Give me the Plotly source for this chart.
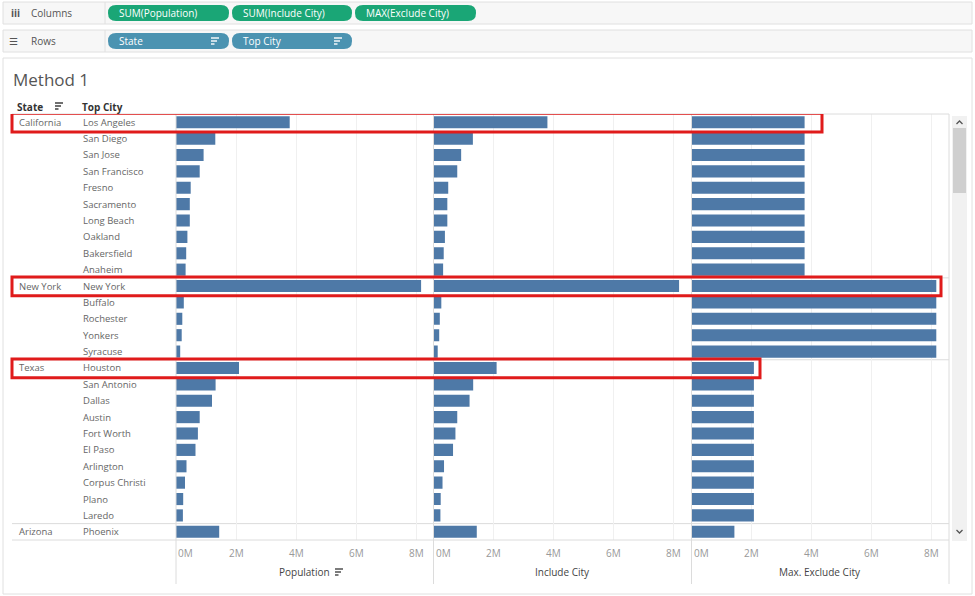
import plotly.graph_objects as go

# ---- data (millions) ----
states = ["California", "New York", "Texas", "Arizona"]

ca_cities = ["Los Angeles", "San Diego", "San Jose", "San Francisco", "Fresno",
             "Sacramento", "Long Beach", "Oakland", "Bakersfield", "Anaheim"]
ca_pop = [3.79, 1.31, 0.92, 0.79, 0.49, 0.46, 0.46, 0.38, 0.34, 0.32]

ny_cities = ["New York", "Buffalo", "Rochester", "Yonkers", "Syracuse"]
ny_pop = [8.17, 0.26, 0.21, 0.19, 0.14]

tx_cities = ["Houston", "San Antonio", "Dallas", "Austin", "Fort Worth",
             "El Paso", "Arlington", "Corpus Christi", "Plano", "Laredo"]
tx_pop = [2.10, 1.32, 1.20, 0.79, 0.73, 0.65, 0.35, 0.30, 0.24, 0.23]

az_cities = ["Phoenix"]
az_pop = [1.44]

# include city shows the same bars as population
ca_include = [3.79, 1.31, 0.92, 0.79, 0.49, 0.46, 0.46, 0.38, 0.34, 0.32]
ny_include = [8.17, 0.26, 0.21, 0.19, 0.14]
tx_include = [2.10, 1.32, 1.20, 0.79, 0.73, 0.65, 0.35, 0.30, 0.24, 0.23]
az_include = [1.44]

# max exclude city per state
max_exclude = [3.77, 8.16, 2.08, 1.43]

tick_vals = [0, 2, 4, 6, 8]
tick_text = ["0M", "2M", "4M", "6M", "8M"]

groups = [(ca_cities, ca_pop, ca_include), (ny_cities, ny_pop, ny_include),
          (tx_cities, tx_pop, tx_include), (az_cities, az_pop, az_include)]

cities, population, include_city, exclude_city, state_start = [], [], [], [], []
for st, (cs, pop, inc), mx in zip(states, groups, max_exclude):
    state_start.append(len(cities))
    cities += cs
    population += pop
    include_city += inc
    exclude_city += [mx] * len(cs)

# ---- helpers: pixel -> paper ----
W, H = 975, 596
def X(x): return x / W
def Y(y): return 1 - y / H

FONT = "Open Sans"
BAR = "#4e79a7"
LINE = "#dcdcdc"

fig = go.Figure()

axes = ["x", "x2", "x3"]
for ax, vals, name in zip(axes, [population, include_city, exclude_city],
                          ["Population", "Include City", "Max. Exclude City"]):
    fig.add_trace(go.Bar(
        y=cities, x=vals, orientation="h", name=name,
        marker=dict(color=BAR, line=dict(width=0)),
        xaxis=ax, yaxis="y", hoverinfo="x+y",
    ))

panes = [(176, 433.5), (433.5, 691.5), (691.5, 949)]
xmax = (433.5 - 176) / 30.0

layout_axes = {}
for i, (a, b) in enumerate(panes):
    key = "xaxis" if i == 0 else f"xaxis{i+1}"
    layout_axes[key] = dict(
        domain=[X(a), X(b)], range=[0, xmax], anchor="y",
        tickvals=tick_vals, showticklabels=False, ticks="",
        showgrid=True, gridcolor="#f0f0f0", gridwidth=1,
        zeroline=False, showline=False, fixedrange=True,
    )

fig.update_layout(
    width=W, height=596, autosize=False,
    margin=dict(l=0, r=0, t=0, b=0),
    paper_bgcolor="white", plot_bgcolor="white",
    showlegend=False, bargap=0.26,
    font=dict(family=FONT, size=10, color="#666"),
    yaxis=dict(type="category", categoryarray=cities, range=[len(cities) - 0.5, -0.5],
               domain=[Y(540), Y(114)], showticklabels=False, showgrid=False,
               zeroline=False, showline=False, anchor="x", fixedrange=True),
    **layout_axes,
)

shapes = []
ann = []

def rect(x0, y0, x1, y1, fill=None, line=None, width=1, layer="below"):
    shapes.append(dict(type="rect", xref="paper", yref="paper",
                       x0=X(x0), x1=X(x1), y0=Y(y1), y1=Y(y0),
                       fillcolor=fill or "rgba(0,0,0,0)",
                       line=dict(color=line or "rgba(0,0,0,0)", width=width if line else 0),
                       layer=layer))

def hline(x0, x1, y, color=LINE, width=1):
    shapes.append(dict(type="line", xref="paper", yref="paper",
                       x0=X(x0), x1=X(x1), y0=Y(y), y1=Y(y),
                       line=dict(color=color, width=width), layer="above"))

def vline(x, y0, y1, color=LINE, width=1):
    shapes.append(dict(type="line", xref="paper", yref="paper",
                       x0=X(x), x1=X(x), y0=Y(y0), y1=Y(y1),
                       line=dict(color=color, width=width), layer="above"))

def text(x, y, s, size=10, color="#666", anchor="left", bold=False, family=FONT):
    ann.append(dict(xref="paper", yref="paper", x=X(x), y=Y(y), text=f"<b>{s}</b>" if bold else s,
                    showarrow=False, xanchor=anchor, yanchor="middle",
                    font=dict(family=family, size=size, color=color)))

def sort_icon(x, y, color):
    for k, ln in enumerate([8, 6, 3.5]):
        hline(x, x + ln, y + k * 3, color=color, width=1.4)

def pill(x0, y0, x1, y1, color):
    r = (y1 - y0) / 2
    p = (f"M {X(x0+r)},{Y(y0)} L {X(x1-r)},{Y(y0)} Q {X(x1)},{Y(y0)} {X(x1)},{Y(y0+r)} "
         f"Q {X(x1)},{Y(y1)} {X(x1-r)},{Y(y1)} L {X(x0+r)},{Y(y1)} "
         f"Q {X(x0)},{Y(y1)} {X(x0)},{Y(y0+r)} Q {X(x0)},{Y(y0)} {X(x0+r)},{Y(y0)} Z")
    shapes.append(dict(type="path", xref="paper", yref="paper", path=p,
                       fillcolor=color, line=dict(width=0), layer="above"))

# ---- shelves ----
rect(3, 2, 972, 24, fill="#f7f7f7", line="#e0e0e0")
rect(3, 30, 972, 52, fill="#f7f7f7", line="#e0e0e0")
vline(105, 2, 24, color="#e0e0e0")
vline(105, 30, 52, color="#e0e0e0")
text(9, 13, "iii", size=10, color="#555", bold=True)
text(29, 13, "Columns", size=10, color="#555")
text(7, 41, "☰", size=10, color="#555", family="DejaVu Sans")
text(29, 41, "Rows", size=10, color="#555")

GREEN = "#1aa676"
BLUE = "#4b93b1"
for (a, b), lab in zip([(108, 229), (232, 352), (355, 476)],
                       ["SUM(Population)", "SUM(Include City)", "MAX(Exclude City)"]):
    pill(a, 5, b, 21, GREEN)
    text(a + 9, 13, lab, size=10, color="white")
for (a, b), lab in zip([(108, 229), (232, 352)], ["State", "Top City"]):
    pill(a, 33, b, 49, BLUE)
    text(a + 9, 41, lab, size=10, color="white")
    sort_icon(b - 18, 38, "white")

# ---- view frame ----
rect(3, 58, 972, 594, line="#e0e0e0")
text(11, 79, "Method 1", size=17, color="#555")
text(15, 107, "State", size=10, color="#333", bold=True)
sort_icon(55, 103, "#333")
text(80, 107, "Top City", size=10, color="#333", bold=True)

# ---- row labels ----
for i, c in enumerate(cities):
    ann.append(dict(xref="paper", yref="y", x=X(81), y=c, text=c, showarrow=False,
                    xanchor="left", yanchor="middle", font=dict(family=FONT, size=9.5, color="#666")))
for st, idx in zip(states, state_start):
    ann.append(dict(xref="paper", yref="y", x=X(17), y=cities[idx], text=st, showarrow=False,
                    xanchor="left", yanchor="middle", font=dict(family=FONT, size=9.5, color="#666")))

# state separators, top and bottom lines
for idx in state_start[1:]:
    shapes.append(dict(type="line", xref="paper", yref="y", x0=X(12), x1=X(949),
                       y0=idx - 0.5, y1=idx - 0.5, line=dict(color=LINE, width=1), layer="below"))
hline(12, 949, 114)
hline(12, 949, 540)

# pane borders
for xv in [176, 433.5, 691.5, 949]:
    vline(xv, 114, 584)

# tick labels and axis titles
for ax in axes:
    for v, t in zip(tick_vals, tick_text):
        ann.append(dict(xref=ax, yref="paper", x=v, y=Y(553), text=t, showarrow=False,
                        xanchor="left" if v == 0 else "center", yanchor="middle",
                        font=dict(family=FONT, size=10, color="#999")))
text(304, 572, "Population", size=10, color="#444", anchor="center")
sort_icon(335, 569, "#444")
text(562, 572, "Include City", size=10, color="#444", anchor="center")
text(820, 572, "Max. Exclude City", size=10, color="#444", anchor="center")

# scrollbar
rect(952, 116, 967, 541, fill="#f1f1f1")
rect(953, 128, 966, 193, fill="#cfcfcf")
for yc, d in [(122, -1), (532, 1)]:
    p = f"M {X(956.5)},{Y(yc - 2*d)} L {X(959.5)},{Y(yc + 1*d)} L {X(962.5)},{Y(yc - 2*d)}"
    shapes.append(dict(type="path", xref="paper", yref="paper", path=p,
                       line=dict(color="#555", width=1.3), layer="above"))

# highlight boxes around top city of each state
RED = "#e01b1b"
for idx, right in zip(state_start[:3], [822, 941, 760]):
    shapes.append(dict(type="rect", xref="paper", yref="y", x0=X(12), x1=X(right),
                       y0=idx - 0.55, y1=idx + 0.6, line=dict(color=RED, width=3),
                       fillcolor="rgba(0,0,0,0)", layer="above"))

fig.update_layout(shapes=shapes, annotations=ann)
# page body has a default 8px margin; drop it so the figure sits at 0,0
fig.write_html("out.html", config={"displayModeBar": False},
               post_script="document.body.style.margin='0';")
